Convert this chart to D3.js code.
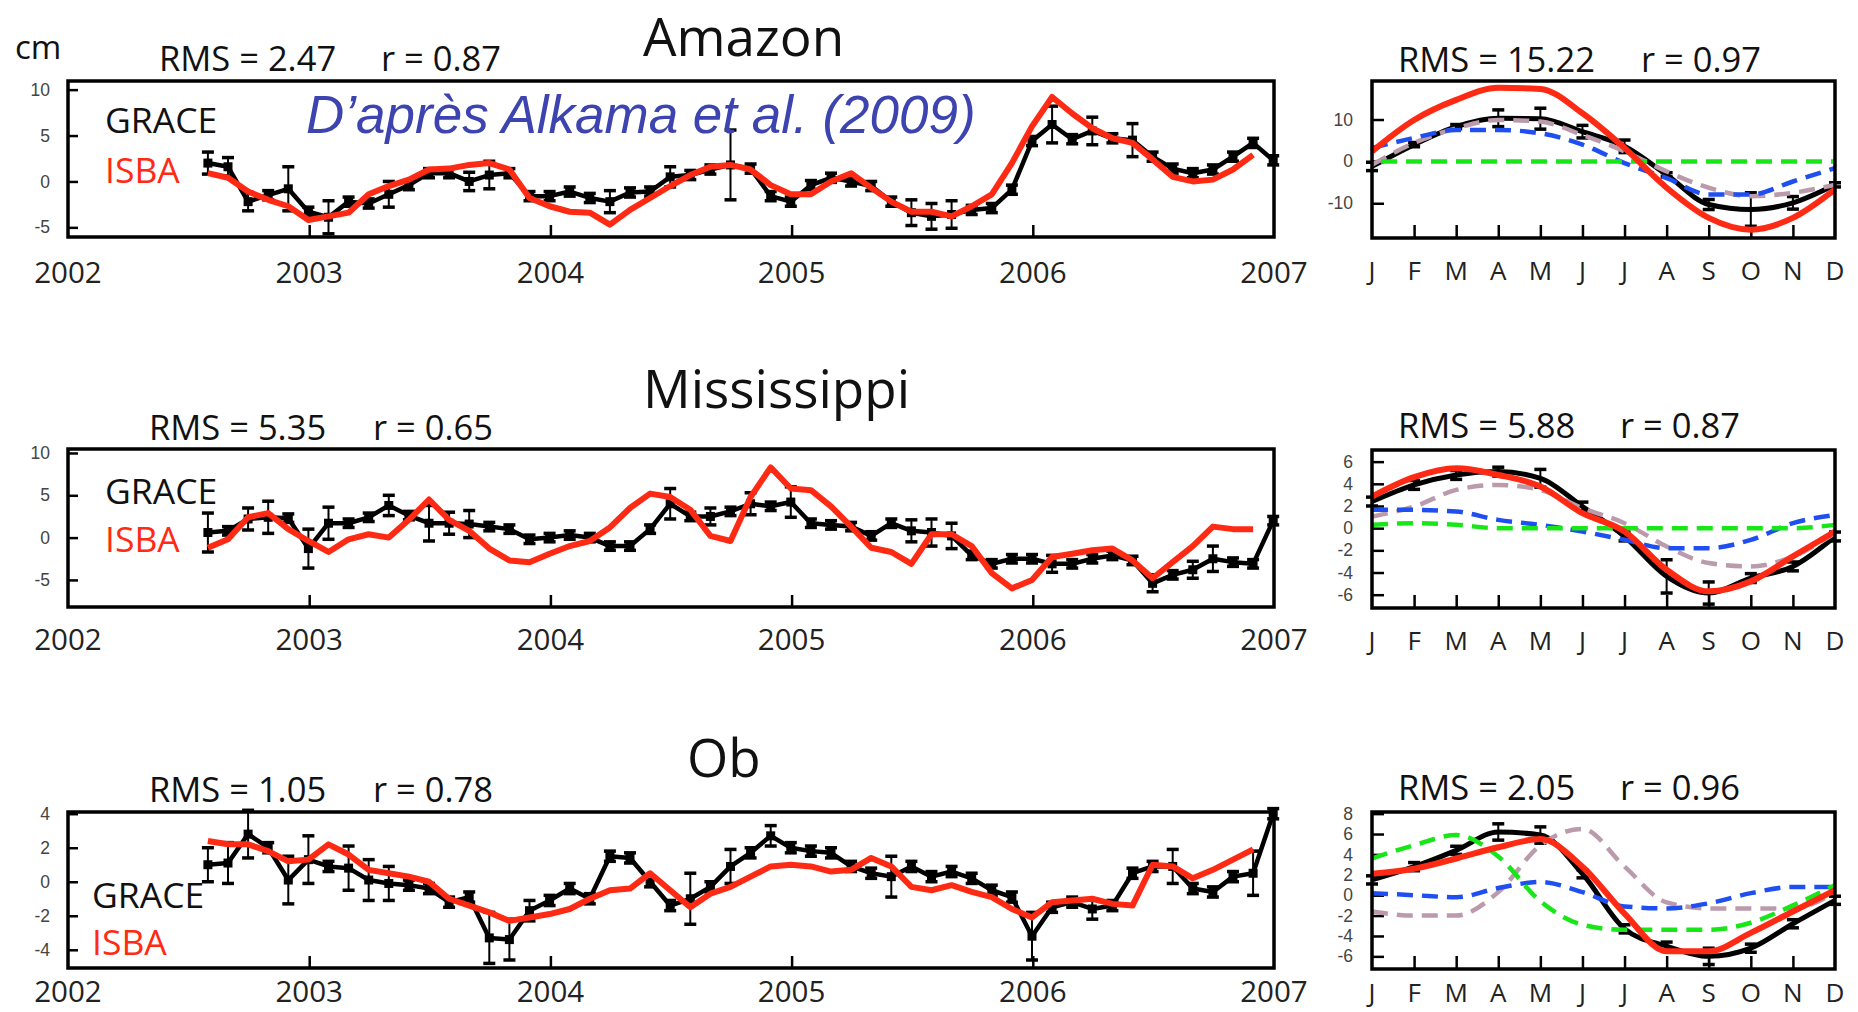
<!DOCTYPE html>
<html>
<head>
<meta charset="utf-8">
<script src="https://cdn.jsdelivr.net/npm/d3@7"></script>
<style>
  body { margin: 0; background: #fff; }
  text { font-family: "Open Sans", "Noto Sans", sans-serif; }
</style>
</head>
<body>
<svg id="chart" width="1858" height="1012"></svg>
<script>
// ---- data ----
const years = [2002, 2003, 2004, 2005, 2006, 2007];
const monthLabels = ["J", "F", "M", "A", "M", "J", "J", "A", "S", "O", "N", "D"];
const firstMonth = 2002.58;   // decimal year of the first monthly sample

// Amazon, monthly anomalies (cm)
const amazonGrace = [2.0, 1.6, -2.2, -1.5, -0.8, -3.3, -3.9, -2.2, -2.4, -1.4, -0.4, 0.9, 0.9, 0.0, 0.7, 0.9,
  -1.6, -1.6, -1.1, -1.8, -2.2, -1.2, -1.1, 0.5, 0.7, 1.3, 1.8, 1.4, -1.6, -2.2, -0.4, 0.4, 0.0, -0.5, -2.2,
  -3.4, -3.8, -3.6, -3.1, -2.9, -0.9, 4.4, 6.2, 4.6, 5.5, 4.7, 4.5, 2.7, 1.4, 0.9, 1.3, 2.7, 4.2, 2.3];
const amazonGraceErr = [1.2, 1.0, 1.0, 0.5, 2.4, 0.5, 1.8, 0.5, 0.5, 1.4, 0.5, 0.5, 0.5, 1.0, 1.5, 0.5,
  0.5, 0.5, 0.5, 0.5, 1.2, 0.5, 0.5, 1.1, 0.5, 0.5, 3.8, 0.5, 0.5, 0.5, 0.5, 0.5, 0.5, 0.5, 0.5,
  1.4, 1.4, 1.5, 0.5, 0.5, 0.5, 0.5, 2.0, 0.5, 1.5, 0.5, 1.8, 0.5, 0.5, 0.5, 0.5, 0.5, 0.5, 0.5];
const amazonIsba = [0.9, 0.4, -1.1, -2.0, -2.7, -4.2, -3.8, -3.4, -1.4, -0.5, 0.2, 1.3, 1.4, 1.8, 2.0, 1.3,
  -1.8, -2.7, -3.3, -3.4, -4.7, -3.1, -1.8, -0.5, 0.7, 1.6, 1.8, 1.3, -0.4, -1.4, -1.4, 0.0, 0.9, -0.7, -2.2,
  -3.3, -3.3, -3.8, -2.7, -1.4, 2.0, 6.0, 9.2, 7.4, 5.8, 4.7, 4.2, 2.4, 0.5, 0.0, 0.2, 1.3, 2.9];

// Mississippi
const mississippiGrace = [0.6, 0.8, 2.2, 2.4, 2.3, -1.3, 1.7, 1.7, 2.4, 3.8, 2.6, 1.7, 1.7, 1.6, 1.3, 1.0,
  -0.2, 0.0, 0.3, 0.0, -1.0, -1.0, 1.0, 4.0, 2.5, 2.5, 3.1, 4.0, 3.7, 4.2, 1.7, 1.5, 1.3, 0.2, 1.7,
  0.8, 0.6, 0.2, -2.1, -3.1, -2.5, -2.5, -3.1, -3.1, -2.5, -2.1, -2.7, -5.4, -4.4, -3.8, -2.5, -2.9, -3.1, 2.0];
const mississippiGraceErr = [2.3, 0.5, 1.3, 1.9, 0.5, 2.3, 1.9, 0.5, 0.5, 1.2, 0.5, 2.1, 1.3, 1.6, 0.5, 0.5,
  0.5, 0.5, 0.5, 0.5, 0.5, 0.5, 0.5, 1.8, 0.5, 1.0, 0.5, 1.3, 0.5, 1.8, 0.5, 0.5, 0.5, 0.5, 0.5,
  1.3, 1.6, 1.5, 0.5, 0.5, 0.5, 0.5, 1.0, 0.5, 0.5, 0.5, 0.5, 1.0, 0.5, 1.0, 1.5, 0.5, 0.5, 0.5];
const mississippiIsba = [-1.2, -0.2, 2.4, 2.9, 1.0, -0.4, -1.7, -0.2, 0.4, 0.0, 2.1, 4.5, 2.1, 0.8, -1.3, -2.7,
  -2.9, -1.9, -1.0, -0.4, 1.2, 3.5, 5.2, 4.8, 3.3, 0.2, -0.4, 4.8, 8.3, 5.8, 5.6, 3.7, 1.3, -1.2, -1.7,
  -3.1, 0.4, 0.4, -1.0, -4.2, -6.0, -5.0, -2.3, -1.9, -1.5, -1.3, -2.7, -4.8, -2.9, -1.0, 1.3, 1.0, 1.0];

// Ob
const obGrace = [1.0, 1.1, 2.8, 2.0, 0.1, 1.3, 0.9, 0.8, 0.1, -0.1, -0.2, -0.4, -1.2, -0.9, -3.3, -3.4,
  -1.7, -1.1, -0.4, -1.0, 1.5, 1.4, 0.0, -1.4, -1.0, -0.3, 0.9, 1.7, 2.7, 2.0, 1.8, 1.7, 0.9, 0.5, 0.3,
  0.9, 0.3, 0.6, 0.2, -0.5, -0.9, -3.2, -1.5, -1.2, -1.6, -1.4, 0.5, 0.9, 0.9, -0.4, -0.6, 0.3, 0.5, 4.0];
const obGraceErr = [1.0, 1.2, 1.4, 0.3, 1.4, 1.4, 0.3, 1.3, 1.2, 1.0, 0.3, 0.3, 0.3, 0.3, 1.5, 1.2,
  0.6, 0.3, 0.3, 0.3, 0.3, 0.3, 0.3, 0.3, 1.5, 0.3, 1.0, 0.3, 0.6, 0.3, 0.3, 0.3, 0.3, 0.3, 1.2,
  0.3, 0.3, 0.3, 0.3, 0.3, 0.3, 1.4, 0.3, 0.3, 0.6, 0.3, 0.3, 0.3, 1.0, 0.3, 0.3, 0.3, 1.3, 0.3];
const obIsba = [2.4, 2.2, 2.2, 1.8, 1.2, 1.3, 2.2, 1.6, 0.7, 0.5, 0.3, 0.0, -1.0, -1.4, -1.8, -2.3,
  -2.1, -1.9, -1.6, -1.0, -0.5, -0.4, 0.5, -0.5, -1.5, -0.7, -0.3, 0.3, 0.9, 1.0, 0.9, 0.6, 0.7, 1.4, 0.9,
  -0.3, -0.5, -0.2, -0.6, -0.9, -1.6, -2.1, -1.2, -1.1, -1.0, -1.3, -1.4, 1.0, 0.9, 0.2, 0.7, 1.3, 1.9];

// mean seasonal cycles (J..D)
const amazonCycGrace = [-1.2, 4.0, 8.3, 10.3, 10.2, 7.1, 3.6, -3.2, -10.3, -11.5, -9.9, -5.6];
const amazonCycGraceErr = [1.0, 0.5, 0.5, 2.0, 2.5, 1.5, 1.5, 0.5, 1.2, 4.0, 1.5, 0.5];
const amazonCycIsba = [2.4, 9.9, 14.7, 17.6, 17.3, 11.5, 3.2, -6.3, -13.5, -16.3, -13.5, -6.7];
const amazonCycBlue = [3.2, 5.6, 7.5, 7.5, 6.7, 4.0, -0.4, -4.0, -7.9, -7.9, -4.8, -1.6];
const amazonCycGreen = [0, 0, 0, 0, 0, 0, 0, 0, 0, 0, 0, 0];
const amazonCycPurple = [-0.8, 4.4, 7.9, 9.9, 9.5, 6.3, 2.4, -2.4, -6.3, -8.3, -7.5, -5.6];

const mississippiCycGrace = [2.4, 3.9, 4.8, 5.1, 4.5, 1.95, -0.75, -4.35, -5.85, -4.5, -3.45, -0.75];
const mississippiCycGraceErr = [0.4, 0.4, 0.4, 0.4, 0.8, 0.4, 0.4, 1.5, 1.0, 0.4, 0.4, 0.4];
const mississippiCycIsba = [2.85, 4.6, 5.4, 4.8, 3.75, 1.35, -0.3, -3.75, -5.7, -4.8, -2.55, -0.3];
const mississippiCycBlue = [1.65, 1.65, 1.5, 0.75, 0.3, -0.3, -1.05, -1.8, -1.8, -1.05, 0.45, 1.2];
const mississippiCycGreen = [0.3, 0.45, 0.3, 0.0, 0.0, 0.0, 0.0, 0.0, 0.0, 0.0, 0.0, 0.3];
const mississippiCycPurple = [1.05, 1.95, 3.45, 3.9, 3.45, 1.8, 0.45, -1.65, -3.15, -3.45, -2.55, -0.45];

const obCycGrace = [1.5, 2.8, 4.4, 6.2, 5.9, 2.1, -3.3, -5.0, -6.0, -5.2, -2.8, -0.5];
const obCycGraceErr = [0.4, 0.4, 0.4, 0.8, 0.8, 0.4, 0.4, 0.4, 0.8, 0.4, 0.4, 0.4];
const obCycIsba = [2.1, 2.6, 3.6, 4.7, 5.5, 2.8, -1.8, -5.5, -5.5, -3.7, -1.6, 0.5];
const obCycBlue = [0.2, 0.0, -0.2, 0.7, 1.3, 0.3, -1.1, -1.3, -0.8, 0.2, 0.8, 0.8];
const obCycGreen = [3.6, 4.9, 5.9, 3.8, -0.6, -2.9, -3.4, -3.4, -3.4, -2.7, -1.0, 1.0];
const obCycPurple = [-1.6, -2.0, -2.0, 0.3, 4.9, 6.5, 2.8, -0.7, -1.3, -1.3, -1.3, 0.3];

const basinNames = ["Amazon", "Mississippi", "Ob"];
const rmsSeries = ["RMS = 2.47", "RMS = 5.35", "RMS = 1.05"];
const rSeries = ["r = 0.87", "r = 0.65", "r = 0.78"];
const rmsCycle = ["RMS = 15.22", "RMS = 5.88", "RMS = 2.05"];
const rCycle = ["r = 0.97", "r = 0.87", "r = 0.96"];

// ---- layout ----
const RED = "#ff2a14", BLUE = "#1f4ff0", GREEN = "#19e619", PURPLE = "#bb9aac";
const svg = d3.select("#chart");
svg.append("rect").attr("width", 1858).attr("height", 1012).attr("fill", "#fff");

const panels = [
  { grace: amazonGrace, err: amazonGraceErr, isba: amazonIsba, yDomain: [-6.05, 10.94], yTicks: [-5, 0, 5, 10],
    top: 81, bottom: 237, yearY: 283, legendX: 105, graceY: 133, isbaY: 183,
    title: { x: 643, y: 56 }, rms: { y: 71, x1: 159, x2: 381 },
    cyc: { grace: amazonCycGrace, err: amazonCycGraceErr, isba: amazonCycIsba, blue: amazonCycBlue,
           green: amazonCycGreen, purple: amazonCycPurple, yDomain: [-18.3, 19.2], yTicks: [-10, 0, 10],
           top: 81, bottom: 238, monthY: 280, rmsY: 72, r2: 1641, greenOffset: 16 } },
  { grace: mississippiGrace, err: mississippiGraceErr, isba: mississippiIsba, yDomain: [-8.2, 10.47], yTicks: [-5, 0, 5, 10],
    top: 449, bottom: 607, yearY: 650, legendX: 105, graceY: 504, isbaY: 552,
    title: { x: 643, y: 408 }, rms: { y: 440, x1: 149, x2: 373 },
    cyc: { grace: mississippiCycGrace, err: mississippiCycGraceErr, isba: mississippiCycIsba, blue: mississippiCycBlue,
           green: mississippiCycGreen, purple: mississippiCycPurple, yDomain: [-7.2, 7.05], yTicks: [-6, -4, -2, 0, 2, 4, 6],
           top: 450, bottom: 608, monthY: 650, rmsY: 438, r2: 1620, greenOffset: 0 } },
  { grace: obGrace, err: obGraceErr, isba: obIsba, yDomain: [-5.07, 4.1], yTicks: [-4, -2, 0, 2, 4],
    top: 812, bottom: 968, yearY: 1002, legendX: 92, graceY: 908, isbaY: 955,
    title: { x: 687, y: 777 }, rms: { y: 802, x1: 149, x2: 373 },
    cyc: { grace: obCycGrace, err: obCycGraceErr, isba: obCycIsba, blue: obCycBlue,
           green: obCycGreen, purple: obCycPurple, yDomain: [-7.24, 8.16], yTicks: [-6, -4, -2, 0, 2, 4, 6, 8],
           top: 812, bottom: 969, monthY: 1002, rmsY: 800, r2: 1620, greenOffset: 0 } }
];

const LEFT0 = 68, LEFT1 = 1274, RIGHT0 = 1372, RIGHT1 = 1835;

function styleAxis(sel) {
  sel.select(".domain").remove();
  sel.selectAll(".tick line").attr("stroke", "#000").attr("stroke-width", 2.5);
  sel.selectAll(".tick text").attr("font-size", 17.5).attr("fill", "#444")
    .style("font-family", "'Liberation Sans', Arial, sans-serif");
}

function frame(x0, x1, y0, y1) {
  svg.append("rect").attr("x", x0).attr("y", y0).attr("width", x1 - x0).attr("height", y1 - y0)
    .attr("fill", "none").attr("stroke", "#000").attr("stroke-width", 3.5);
}

function errorBars(g, data, err, xf, y) {
  const eb = g.append("g").attr("stroke", "#000");
  data.forEach((d, i) => {
    if (d == null || err[i] == null) return;
    const cx = xf(i), yl = y(d - err[i]), yh = y(d + err[i]);
    eb.append("line").attr("x1", cx).attr("x2", cx).attr("y1", yl).attr("y2", yh).attr("stroke-width", 2);
    eb.append("line").attr("x1", cx - 6).attr("x2", cx + 6).attr("y1", yl).attr("y2", yl).attr("stroke-width", 3.5);
    eb.append("line").attr("x1", cx - 6).attr("x2", cx + 6).attr("y1", yh).attr("y2", yh).attr("stroke-width", 3.5);
  });
}

panels.forEach((p, k) => {
  // ---------- time series panel ----------
  const x = d3.scaleLinear().domain([2002, 2007]).range([LEFT0, LEFT1]);
  const y = d3.scaleLinear().domain(p.yDomain).range([p.bottom, p.top]);
  const xi = i => x(firstMonth + i / 12);
  const g = svg.append("g");

  g.append("g").attr("transform", `translate(${LEFT0},0)`)
    .call(d3.axisLeft(y).tickValues(p.yTicks).tickSize(-10).tickPadding(18).tickFormat(d => String(d)))
    .call(styleAxis);
  g.append("g").attr("transform", `translate(0,${p.bottom})`)
    .call(d3.axisBottom(x).tickValues([2003, 2004, 2005, 2006]).tickSize(-12).tickFormat(""))
    .call(styleAxis);

  g.selectAll("text.year").data(years).join("text").attr("class", "year")
    .attr("x", d => x(d)).attr("y", p.yearY).attr("text-anchor", "middle")
    .attr("font-size", 29.5).attr("fill", "#222").text(d => d);

  const line = d3.line().defined(d => d != null).x((d, i) => xi(i)).y(d => y(d));
  errorBars(g, p.grace, p.err, xi, y);
  g.append("path").datum(p.grace).attr("d", line).attr("fill", "none")
    .attr("stroke", "#000").attr("stroke-width", 4.5).attr("stroke-linejoin", "round");
  g.selectAll("rect.pt").data(p.grace).join("rect").attr("class", "pt")
    .attr("x", (d, i) => xi(i) - 4.5).attr("y", d => y(d) - 4.5).attr("width", 9).attr("height", 9).attr("fill", "#000");
  g.append("path").datum(p.isba).attr("d", line).attr("fill", "none")
    .attr("stroke", RED).attr("stroke-width", 6).attr("stroke-linejoin", "round");

  frame(LEFT0, LEFT1, p.top, p.bottom);

  g.append("text").attr("x", p.legendX).attr("y", p.graceY).attr("font-size", 35.5).attr("fill", "#111").text("GRACE");
  g.append("text").attr("x", p.legendX).attr("y", p.isbaY).attr("font-size", 35.5).attr("fill", RED).text("ISBA");

  svg.append("text").attr("x", p.title.x).attr("y", p.title.y).attr("font-size", 53).attr("fill", "#111").text(basinNames[k]);
  svg.append("text").attr("x", p.rms.x1).attr("y", p.rms.y).attr("font-size", 34.5).attr("fill", "#111").text(rmsSeries[k]);
  svg.append("text").attr("x", p.rms.x2).attr("y", p.rms.y).attr("font-size", 34.5).attr("fill", "#111").text(rSeries[k]);

  // ---------- seasonal cycle panel ----------
  const c = p.cyc;
  const xm = d3.scaleLinear().domain([0, 11]).range([RIGHT0, RIGHT1]);
  const ym = d3.scaleLinear().domain(c.yDomain).range([c.bottom, c.top]);
  const h = svg.append("g");

  h.append("g").attr("transform", `translate(${RIGHT0},0)`)
    .call(d3.axisLeft(ym).tickValues(c.yTicks).tickSize(-12).tickPadding(19).tickFormat(d => String(d)))
    .call(styleAxis);
  h.append("g").attr("transform", `translate(0,${c.bottom})`)
    .call(d3.axisBottom(xm).tickValues(d3.range(1, 11)).tickSize(-13).tickFormat(""))
    .call(styleAxis);

  h.selectAll("text.month").data(monthLabels).join("text").attr("class", "month")
    .attr("x", (d, i) => xm(i)).attr("y", c.monthY).attr("text-anchor", "middle")
    .attr("font-size", 26).attr("fill", "#222").text(d => d);

  const cline = d3.line().curve(d3.curveMonotoneX).x((d, i) => xm(i)).y(d => ym(d));
  errorBars(h, c.grace, c.err, i => xm(i), ym);
  h.append("path").datum(c.grace).attr("d", cline).attr("fill", "none")
    .attr("stroke", "#000").attr("stroke-width", 5);
  [[c.purple, PURPLE, 0], [c.blue, BLUE, 0], [c.green, GREEN, c.greenOffset]].forEach(([arr, col, off]) => {
    h.append("path").datum(arr).attr("d", cline).attr("fill", "none")
      .attr("stroke", col).attr("stroke-width", 4.5).attr("stroke-dasharray", "16,9")
      .attr("stroke-dashoffset", off);
  });
  h.append("path").datum(c.isba).attr("d", cline).attr("fill", "none")
    .attr("stroke", RED).attr("stroke-width", 6);

  frame(RIGHT0, RIGHT1, c.top, c.bottom);

  svg.append("text").attr("x", 1398).attr("y", c.rmsY).attr("font-size", 34.5).attr("fill", "#111").text(rmsCycle[k]);
  svg.append("text").attr("x", c.r2).attr("y", c.rmsY).attr("font-size", 34.5).attr("fill", "#111").text(rCycle[k]);
});

svg.append("text").attr("x", 15).attr("y", 59).attr("font-size", 33).attr("fill", "#111").text("cm");
svg.append("text").attr("x", 306).attr("y", 133).attr("font-size", 53)
  .attr("fill", "#3d44b0").attr("font-style", "italic")
  .style("font-family", "'Liberation Sans', Arial, sans-serif")
  .text("D’après Alkama et al. (2009)");
</script>
</body>
</html>
